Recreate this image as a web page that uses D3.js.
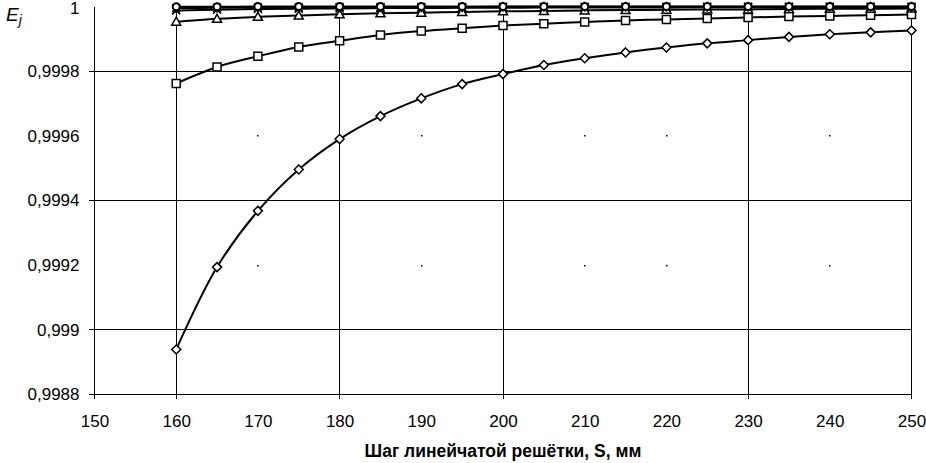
<!DOCTYPE html>
<meta charset="utf-8">
<style>
  body { margin: 0; background: #fff; }
  text { font-family: "Liberation Sans", Arial, sans-serif; fill: #000; }
</style>
<div id="chart_div"></div>
<script src="https://d3js.org/d3.v7.min.js"></script>
<script>

// data
let steps = [160, 165, 170, 175, 180, 185, 190, 195, 200, 205, 210, 215, 220, 225, 230, 235, 240, 245, 250];
let e_diamond = [0.998939, 0.999194, 0.999368, 0.999496, 0.999590, 0.999661, 0.999716, 0.999760, 0.999791, 0.999819,
                 0.999840, 0.999858, 0.999873, 0.999886, 0.999896, 0.999906, 0.999914, 0.999920, 0.999926];
let e_square = [0.999762, 0.999813, 0.999846, 0.999875, 0.999894, 0.999912, 0.999924, 0.999933, 0.999941, 0.999947,
                0.999952, 0.999957, 0.999960, 0.999963, 0.999966, 0.999969, 0.999971, 0.999973, 0.999975];
let e_triangle = [0.999953, 0.999962, 0.999968, 0.999972, 0.999976, 0.999979, 0.999981, 0.999983, 0.999985, 0.999986,
                  0.999988, 0.999989, 0.999990, 0.999991, 0.999991, 0.999992, 0.999993, 0.999993, 0.999994];
let e_cross = [0.999988, 0.999990, 0.999992, 0.999993, 0.999994, 0.999995, 0.999995, 0.999996, 0.999996, 0.999997,
               0.999997, 0.999997, 0.999997, 0.999998, 0.999998, 0.999998, 0.999998, 0.999998, 0.999998];
let e_star = [0.999995, 0.999996, 0.999997, 0.999997, 0.999998, 0.999998, 0.999998, 0.999998, 0.999999, 0.999999,
              0.999999, 0.999999, 0.999999, 0.999999, 0.999999, 0.999999, 0.999999, 0.999999, 0.999999];
let e_circle = [0.999999, 0.999999, 1, 1, 1, 1, 1, 1, 1, 1, 1, 1, 1, 1, 1, 1, 1, 1, 1];

let x_ticks = [150, 160, 170, 180, 190, 200, 210, 220, 230, 240, 250];
let y_ticks = [0.9988, 0.999, 0.9992, 0.9994, 0.9996, 0.9998, 1];
let x_grid = [160, 180, 200, 230, 250];
let y_grid = [0.999, 0.9994, 0.9998];
// leftover grid dots visible in the picture
let dot_x = [170, 190, 210, 220, 240];
let dot_y = [0.9992, 0.9996];

let series = [
  {values: e_diamond, marker: "diamond"},
  {values: e_square, marker: "square"},
  {values: e_triangle, marker: "triangle"},
  {values: e_cross, marker: "cross"},
  {values: e_star, marker: "star"},
  {values: e_circle, marker: "circle"}
];

let container_width = 926,
    container_height = 463;

let x = d3.scaleLinear().domain([150, 250]).range([94.5, 911.5]);
let y = d3.scaleLinear().domain([0.9988, 1]).range([394.5, 6.5]);

let svg = d3.select("#chart_div").append("svg")
    .attr("width", container_width)
    .attr("height", container_height)
    .style("display", "block");

svg.append("rect").attr("width", container_width).attr("height", container_height).attr("fill", "#fff");

// grid lines
let grid = svg.append("g").attr("shape-rendering", "crispEdges").attr("stroke", "#000");
grid.selectAll(".vgrid").data(x_grid).enter().append("line")
    .attr("x1", d => x(d)).attr("x2", d => x(d))
    .attr("y1", y(1)).attr("y2", y(0.9988) + 4);
grid.selectAll(".hgrid").data(y_grid).enter().append("line")
    .attr("y1", d => y(d)).attr("y2", d => y(d))
    .attr("x1", x(150) - 6).attr("x2", x(250));
// axis lines
grid.append("line").attr("x1", x(150)).attr("x2", x(150)).attr("y1", y(1)).attr("y2", y(0.9988) + 4);
grid.append("line").attr("x1", x(150) - 6).attr("x2", x(250)).attr("y1", y(0.9988)).attr("y2", y(0.9988));

let dots = [];
dot_x.forEach(a => dot_y.forEach(b => dots.push([a, b])));
svg.append("g").selectAll("rect").data(dots).enter().append("rect")
    .attr("x", d => Math.floor(x(d[0])))
    .attr("y", d => Math.floor(y(d[1])))
    .attr("width", 1.5).attr("height", 1.5).attr("fill", "#000");

// tick labels via d3 axes (lines hidden)
let x_axis = svg.append("g")
    .attr("transform", "translate(0," + y(0.9988) + ")")
    .call(d3.axisBottom(x).tickValues(x_ticks).tickSize(0).tickPadding(20).tickFormat(d3.format("d")));
x_axis.select(".domain").remove();
x_axis.selectAll("text").style("font-size", "17px").attr("font-family", null);

let y_axis = svg.append("g")
    .attr("transform", "translate(" + x(150) + ",0)")
    .call(d3.axisLeft(y).tickValues(y_ticks).tickSize(0).tickPadding(15)
      .tickFormat(d => String(+d.toFixed(4)).replace(".", ",")));
y_axis.select(".domain").remove();
y_axis.selectAll("text").style("font-size", "17px").attr("font-family", null);
// keep the top label inside the frame
y_axis.selectAll(".tick").filter(d => d === 1).select("text").attr("dy", "0.42em");

// axis titles
svg.append("text")
    .attr("x", (x(150) + x(250)) / 2)
    .attr("y", 457)
    .attr("text-anchor", "middle")
    .style("font-size", "17.5px")
    .style("font-weight", "bold")
    .text("Шаг линейчатой решётки, S, мм");

let e_label = svg.append("text")
    .attr("x", 6)
    .attr("y", 21)
    .style("font-size", "19px")
    .style("font-style", "italic");
e_label.append("tspan").text("E");
e_label.append("tspan").attr("dy", 4).style("font-size", "14px").text("j");

// series lines
let line = d3.line()
    .x((d, i) => x(steps[i]))
    .y(d => y(d))
    .curve(d3.curveCatmullRom.alpha(0.5));

svg.append("g").selectAll("path").data(series).enter().append("path")
    .attr("d", d => line(d.values))
    .attr("fill", "none")
    .attr("stroke", "#000")
    .attr("stroke-width", 2);

// markers
function marker_path(type) {
  let p = d3.path();
  if (type === "diamond") {
    p.moveTo(0, -4.5); p.lineTo(4.5, 0); p.lineTo(0, 4.5); p.lineTo(-4.5, 0); p.closePath();
  } else if (type === "square") {
    p.rect(-4, -4, 8, 8);
  } else if (type === "triangle") {
    p.moveTo(0, -4.5); p.lineTo(4.5, 3.5); p.lineTo(-4.5, 3.5); p.closePath();
  } else if (type === "cross") {
    p.moveTo(-4, -4); p.lineTo(4, 4); p.moveTo(4, -4); p.lineTo(-4, 4);
  } else if (type === "star") {
    p.moveTo(-4, -4); p.lineTo(4, 4); p.moveTo(4, -4); p.lineTo(-4, 4);
    p.moveTo(0, -5); p.lineTo(0, 5);
  } else {
    p.arc(0, 0, 3.5, 0, 2 * Math.PI);
  }
  return p.toString();
}

series.forEach(s => {
  svg.append("g").selectAll("path").data(s.values).enter().append("path")
      .attr("transform", (d, i) => "translate(" + x(steps[i]) + "," + y(d) + ")")
      .attr("d", marker_path(s.marker))
      .attr("fill", (s.marker === "cross" || s.marker === "star") ? "none" : "#fff")
      .attr("stroke", "#000")
      .attr("stroke-width", s.marker === "circle" ? 2 : 1.5);
});

</script>
